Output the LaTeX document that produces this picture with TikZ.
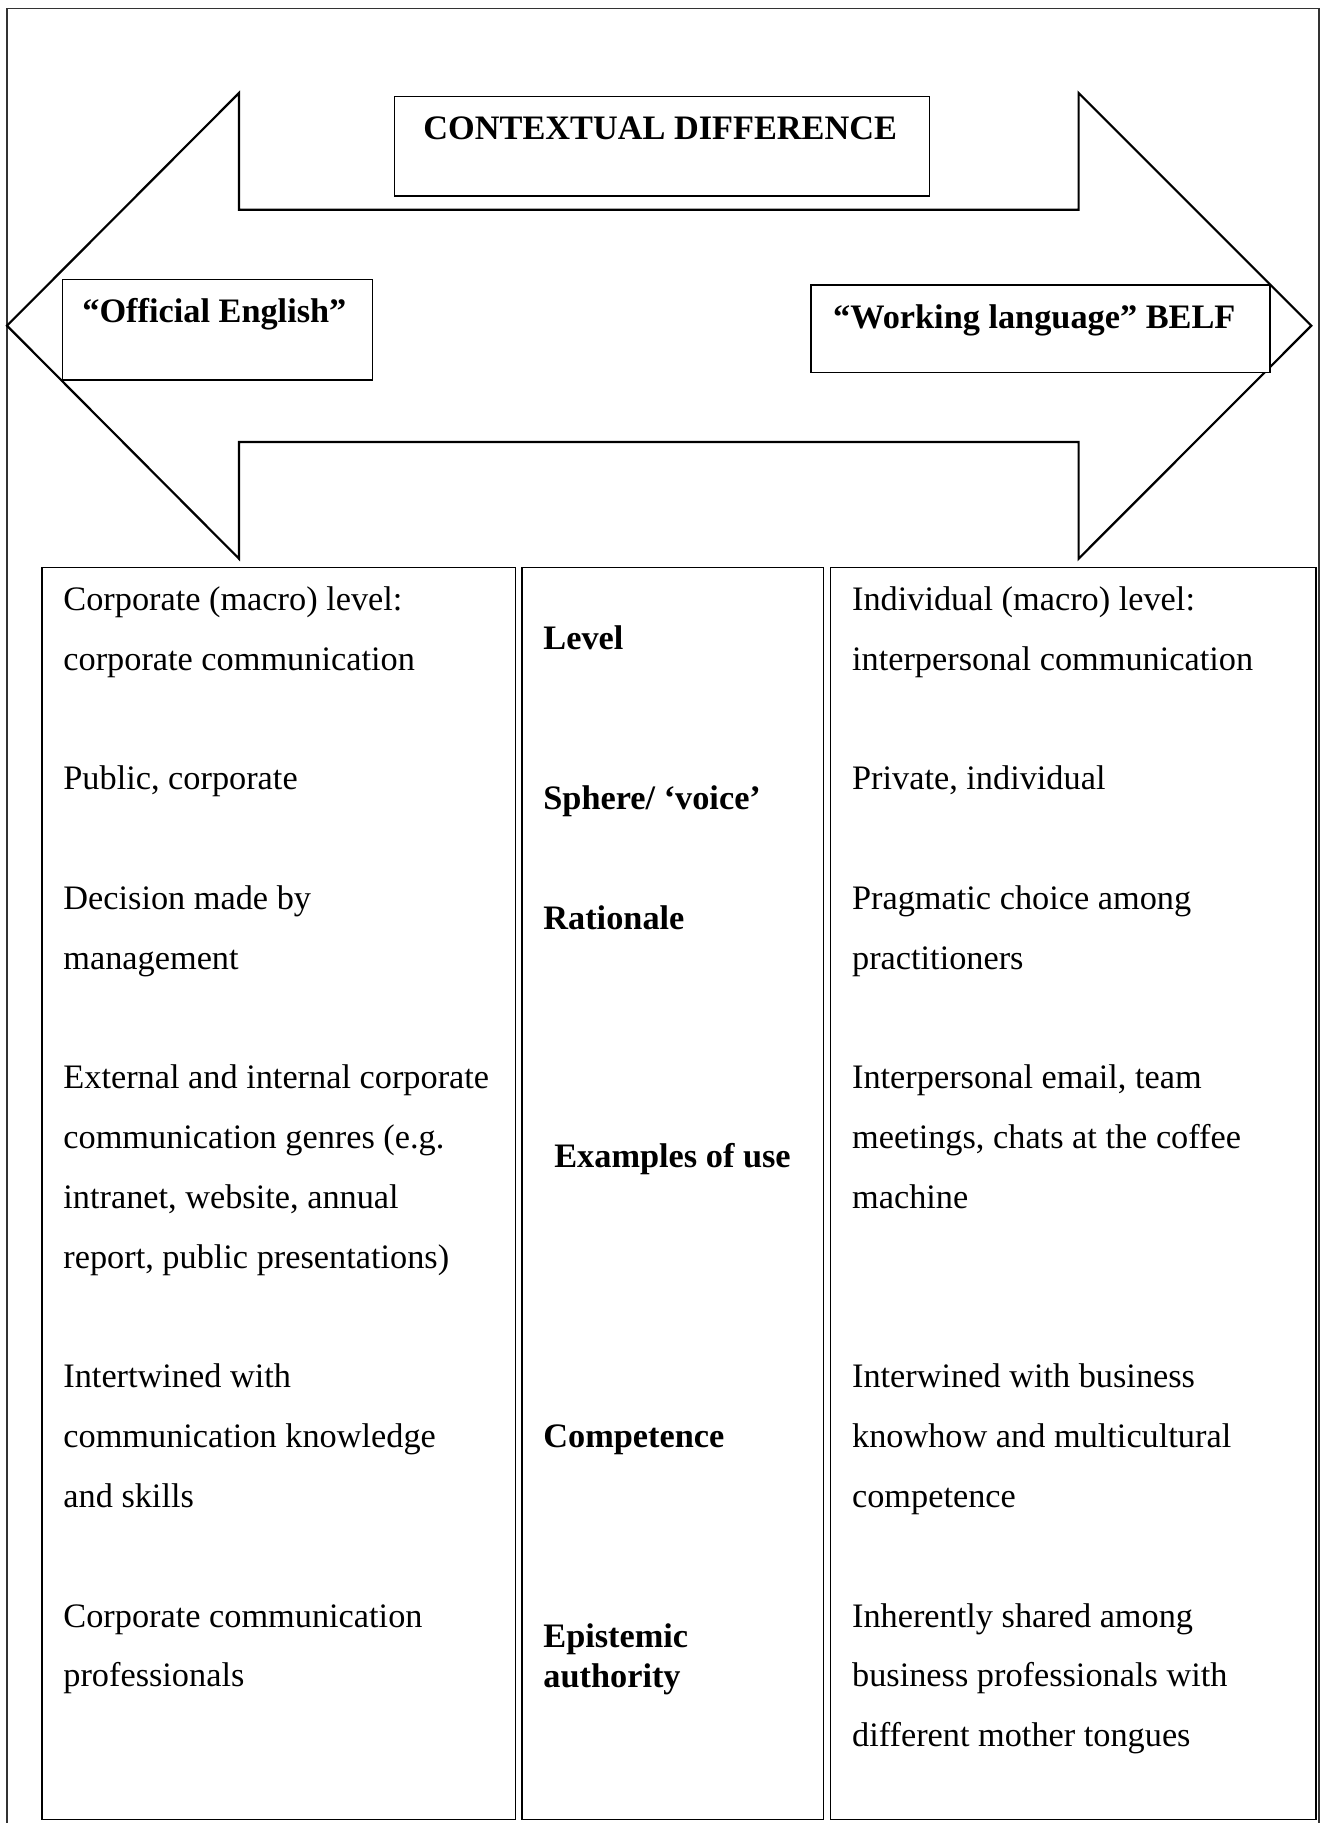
\documentclass[tikz,border=0pt]{standalone}
\usepackage{fontspec}
\setmainfont{Liberation Serif}[Ligatures=NoCommon]
\begin{document}
\begin{tikzpicture}[x=0.5pt,y=-0.5pt,
  every node/.style={inner sep=0pt, font=\fontsize{17.15}{20.6}\selectfont},
  body/.style={anchor=base west},
  head/.style={anchor=base west, font=\fontsize{17.15}{20.6}\selectfont\bfseries},
  midc/.style={anchor=base, font=\fontsize{17.15}{20.6}\selectfont\bfseries},
  frameline/.style={draw=black!80, line width=0.8pt},
  box/.style={draw=black, line width=0.6pt, fill=white},
  bigarrow/.style={draw=black, line width=1.1pt, line join=miter}]
\useasboundingbox (0,0) rectangle (1321,1823);
% outer frame
\draw[frameline] (7,1823) -- (7,8.4) -- (1319,8.4) -- (1319,1823);
% double arrow
\draw[bigarrow] (7,325.7) -- (239,93) -- (239,209.7) -- (1078.6,209.7) -- (1078.6,93)
  -- (1311.3,325.7) -- (1078.6,558.7) -- (1078.6,442) -- (239,442) -- (239,558.7) -- cycle;
% header boxes
\draw[box] (394.8,96.5) rectangle (929.8,196);
\node[head] (ctx) at (423,140) {CONTEXTUAL DIFFERENCE};
\draw[box] (62.3,279.4) rectangle (372.5,380);
\node[head] (off) at (82,323) {“Official English”};
\draw[box] (811,285) rectangle (1270,372.4);
\node[head] (work) at (832.8,328.4) {“Working language” BELF};
% columns
\draw[box] (42,567.5) rectangle (515.6,1819.5);
\draw[box] (522,567.5) rectangle (823.6,1819.5);
\draw[box] (830.7,567.5) rectangle (1316,1819.5);
% left column
\node[body] (l0) at (63,610.5) {Corporate (macro) level:};
\node[body] (l1) at (63,670.3) {corporate communication};
\node[body] (l3) at (63,789.9) {Public, corporate};
\node[body] (l5) at (63,909.5) {Decision made by};
\node[body] (l6) at (63,969.3) {management};
\node[body] (l8) at (63,1088.9) {External and internal corporate};
\node[body] (l9) at (63,1148.7) {communication genres (e.g.};
\node[body] (l10) at (63,1208.5) {intranet, website, annual};
\node[body] (l11) at (63,1268.3) {report, public presentations)};
\node[body] (l13) at (63,1387.9) {Intertwined with};
\node[body] (l14) at (63,1447.7) {communication knowledge};
\node[body] (l15) at (63,1507.5) {and skills};
\node[body] (l17) at (63,1627.1) {Corporate communication};
\node[body] (l18) at (63,1686.9) {professionals};
% middle column
\node[head] (m1) at (543,649) {Level};
\node[head] (m2) at (543,809) {Sphere/ ‘voice’};
\node[head] (m3) at (543,929.5) {Rationale};
\node[midc] (m4) at (672.5,1167) {Examples of use};
\node[head] (m5) at (543,1447.7) {Competence};
\node[head] (m6a) at (543,1647) {Epistemic};
\node[head] (m6b) at (543,1687.3) {authority};
% right column
\node[body] (r0) at (851.7,610.5) {Individual (macro) level:};
\node[body] (r1) at (851.7,670.3) {interpersonal communication};
\node[body] (r3) at (851.7,789.9) {Private, individual};
\node[body] (r5) at (851.7,909.5) {Pragmatic choice among};
\node[body] (r6) at (851.7,969.3) {practitioners};
\node[body] (r8) at (851.7,1088.9) {Interpersonal email, team};
\node[body] (r9) at (851.7,1148.7) {meetings, chats at the coffee};
\node[body] (r10) at (851.7,1208.5) {machine};
\node[body] (r13) at (851.7,1387.9) {Interwined with business};
\node[body] (r14) at (851.7,1447.7) {knowhow and multicultural};
\node[body] (r15) at (851.7,1507.5) {competence};
\node[body] (r17) at (851.7,1627.1) {Inherently shared among};
\node[body] (r18) at (851.7,1686.9) {business professionals with};
\node[body] (r19) at (851.7,1746.7) {different mother tongues};
\end{tikzpicture}
\end{document}
